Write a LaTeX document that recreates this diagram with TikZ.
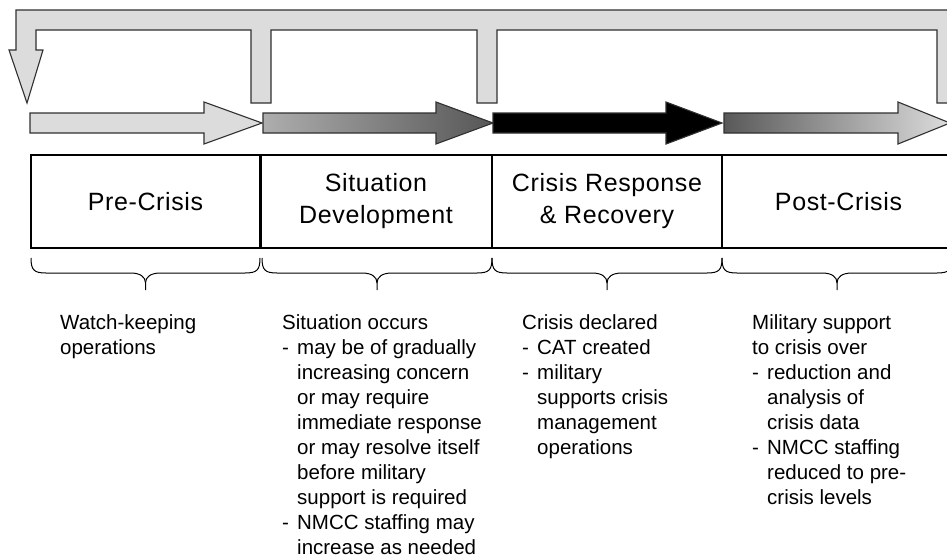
\documentclass[tikz,border=0pt]{standalone}
\usepackage{fontspec}
\setmainfont{Liberation Sans}
\newfontfamily\phasefont[LetterSpace=2.5]{Liberation Sans}
\definecolor{barfill}{HTML}{DCDCDC}
\definecolor{edge}{HTML}{303030}
\newcommand\itemdash{\makebox[15pt][l]{-}}
\newcommand\itemind{\hspace*{15pt}}
\begin{document}
\begin{tikzpicture}[x=1pt,y=-1pt,
  feedback/.style={fill=barfill, draw=edge, line width=1.1pt, line join=miter},
  flow/.style={draw=edge, line width=1.1pt, line join=miter},
  phase/.style={draw=black, line width=1.2pt, minimum height=93pt, inner sep=0pt,
    align=center, font=\phasefont\fontsize{25}{32}\selectfont},
  notes/.style={anchor=north west, inner sep=0pt, align=left,
    font=\fontsize{20.5}{25}\selectfont},
  bracket/.style={draw=black, line width=1pt, line join=round}]

\useasboundingbox (0,0) rectangle (947,557);
\fill[white] (0,0) rectangle (947,557);

\begin{scope}
  \clip (0,0) rectangle (947,557);
  % feedback loop across the top
  \path[feedback] (16,10) -- (960,10) -- (960,103) -- (937,103) -- (937,30)
    -- (497,30) -- (497,103) -- (477,103) -- (477,30)
    -- (271,30) -- (271,103) -- (251,103) -- (251,30)
    -- (36,30) -- (36,50) -- (43,50) -- (27,103) -- (9,50) -- (16,50) -- cycle;

  % phase flow arrows
  \path[flow, fill=barfill] (30,113) -- (204,113) -- (204,102) -- (262,123)
    -- (204,144) -- (204,133) -- (30,133) -- cycle;
  \path[flow, left color=black!32, right color=black!66] (263,113) -- (436,113)
    -- (436,102) -- (493,123) -- (436,144) -- (436,133) -- (263,133) -- cycle;
  \path[flow, fill=black] (493,113) -- (666,113) -- (666,102) -- (722,123)
    -- (666,144) -- (666,133) -- (493,133) -- cycle;
  \path[flow, left color=black!65, right color=barfill] (724,113) -- (898,113)
    -- (898,102) -- (950,123) -- (898,144) -- (898,133) -- (724,133) -- cycle;

  % phase boxes
  \node[phase, minimum width=229pt] (pre)  at (145.5,201.5) {Pre-Crisis};
  \node[phase, minimum width=232pt] (dev)  at (376,201.5)   {Situation\\Development};
  \node[phase, minimum width=230pt] (resp) at (607,201.5)   {Crisis Response\\\& Recovery};
  \node[phase, minimum width=233pt] (post) at (838.5,201.5) {Post-Crisis};
  \draw[line width=2.4pt] (pre.north east) -- (pre.south east);

  % braces under each phase
  \foreach \xa/\xb in {31/260, 262/492, 492/722, 722/952}{
    \pgfmathsetmacro\xm{(\xa+\xb)/2}
    \path[bracket] (\xa,258) .. controls (\xa,270) and (\xa+3,273) .. (\xa+15,273)
      -- (\xm-15,273) .. controls (\xm-5,273) and (\xm,277) .. (\xm,283)
      -- (\xm,290);
    \path[bracket] (\xm,283) .. controls (\xm,277) and (\xm+5,273) .. (\xm+15,273)
      -- (\xb-15,273) .. controls (\xb-3,273) and (\xb,270) .. (\xb,258);
  }
\end{scope}

% phase descriptions
\node[notes] (c1) at (60,314) {Watch-keeping\\operations};
\node[notes] (c2) at (282,314) {Situation occurs\\
  \itemdash may be of gradually\\
  \itemind increasing concern\\
  \itemind or may require\\
  \itemind immediate response\\
  \itemind or may resolve itself\\
  \itemind before military\\
  \itemind support is required\\
  \itemdash NMCC staffing may\\
  \itemind increase as needed};
\node[notes] (c3) at (522,314) {Crisis declared\\
  \itemdash CAT created\\
  \itemdash military\\
  \itemind supports crisis\\
  \itemind management\\
  \itemind operations};
\node[notes] (c4) at (752,314) {Military support\\
  to crisis over\\
  \itemdash reduction and\\
  \itemind analysis of\\
  \itemind crisis data\\
  \itemdash NMCC staffing\\
  \itemind reduced to pre-\\
  \itemind crisis levels};
\end{tikzpicture}
\end{document}
